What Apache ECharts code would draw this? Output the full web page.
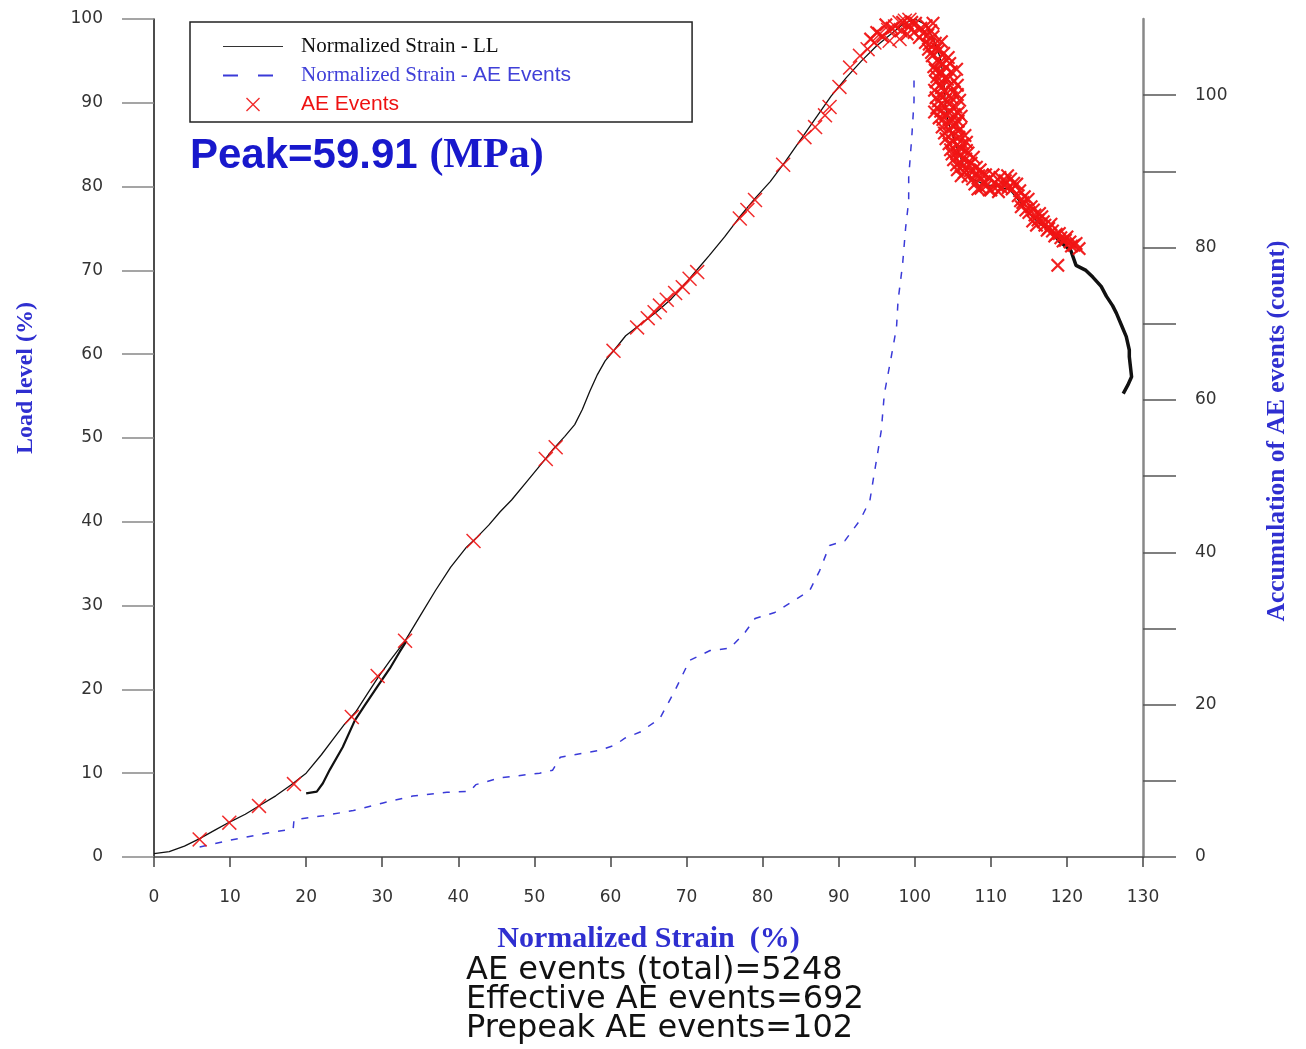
<!DOCTYPE html>
<html>
<head>
<meta charset="utf-8">
<script src="https://cdn.jsdelivr.net/npm/echarts@6/dist/echarts.min.js"></script>
<style>
html,body{margin:0;padding:0;background:#fff;}
#chart{width:1306px;height:1049px;}
</style>
</head>
<body>
<div id="chart"></div>
<script>
// ---- data (strain %, load %) ----
var llMain = [[0,0.4],[2,0.65],[4,1.3],[6,2.2],[8,3.2],[10,4.2],[12,5.1],[14,6.2],[16,7.3],[18,8.6],[20,10.0],[22,12.2],[23.5,14.0],[25,15.8],[26.5,17.3],[28,19.4],[29.5,21.5],[31,23.4],[33,25.8],[35,28.8],[37,31.8],[39,34.6],[41,36.9],[42.5,38.2],[44,39.6],[45.5,41.2],[47,42.6],[49,44.8],[51,47.0],[52.5,48.7],[54,50.2],[55.3,51.6],[56.3,53.4],[57.3,55.6],[58.3,57.6],[59.3,59.2],[60.5,60.5],[62,62.2],[64,63.6],[66,65.0],[68,66.6],[70,68.6],[71.5,70.2],[73,71.8],[75,74.0],[77,76.4],[79,78.6],[81,80.6],[83,83.0],[85,85.6],[87,88.2],[89,90.8],[91,93.0],[93,95.0],[95,96.8],[97,98.3],[98.5,99.4],[100,100],[101.5,99.3],[102.5,97.5],[103.3,95.5],[103.8,93],[104,90],[104.3,88],[105,86],[105.8,84],[106.5,82.3],[107.5,81],[109,80.3],[111,80],[112.5,79.6],[113.5,78.5],[115,76.8],[116.5,75.5],[118,74.6]];
var llReload = [[20.0,7.6],[21.4,7.8],[22.2,8.8],[23.1,10.4],[24.8,13.1],[26.4,16.3],[27.7,18.1],[29.4,20.4],[31,22.5],[32.3,24.5],[33.2,25.8]];
var llTail = [[118,74.6],[119,73.5],[120.5,72.4],[121.2,70.6],[122.5,70.0],[123.4,69.2],[124.5,68.1],[125.2,66.9],[126,65.8],[126.5,64.9],[127.2,63.4],[127.8,62.1],[128.2,60.5],[128.2,59.7],[128.5,57.3],[128,56.3],[127.4,55.3]];
// accumulation of AE events (strain %, count)
var aeAccum = [[6,1.3],[10,2.2],[15.2,3.2],[18.3,3.7],[18.4,4.9],[22.2,5.4],[26.2,6.1],[30.1,7.1],[34,8.0],[38.5,8.5],[41.5,8.6],[42.3,9.5],[45.5,10.4],[50.7,11],[52.4,11.4],[53.4,13.1],[58.6,14],[60.6,14.7],[61.9,15.6],[63.9,16.4],[66.5,18.2],[68.5,21.9],[70.4,25.8],[73.1,27.1],[75.7,27.4],[77.7,29.5],[79,31.3],[81.6,32.1],[84.2,33.7],[86.2,35],[87.5,37.6],[88.8,40.9],[90.8,41.5],[92.8,44.2],[94.1,46.8],[94.7,50.5],[95.2,53.5],[95.6,56],[96,60.8],[96.9,65.6],[97.6,69.5],[97.8,73],[98.4,77.8],[98.8,82.6],[99.2,86.1],[99.2,89.2],[99.4,91.8],[99.6,94.4],[99.9,99.2],[99.9,102]];
// AE events markers before the peak (strain %, load %)
var aeEventsPre = [[6,2.1],[9.9,4.1],[13.8,6.1],[18.4,8.7],[26,16.7],[29.4,21.6],[33,25.8],[42,37.7],[51.5,47.5],[52.8,48.9],[60.4,60.4],[63.5,63.2],[64.9,64.3],[65.8,65],[66.5,65.8],[67.4,66.5],[68.5,67.3],[69.5,68],[70.4,69],[71.4,69.8],[77,76.2],[78,77.2],[79,78.4],[82.7,82.6],[85.5,85.9],[86.9,87.1],[88.2,88.5],[88.8,89.5],[90.1,91.9],[91.5,94.2],[92.8,95.6],[93.8,96.4],[94.7,97.2],[95.4,98.2],[96.5,98.7],[96.7,97.4],[97.4,99.1],[98,99.6],[98,97.6],[98.7,99.8],[99.3,99.9]];
// AE events markers around and after the peak (strain %, load %)
var aeEventsPost = [[94.2,97.6],[95.0,98.4],[95.8,97.9],[96.2,99.3],[97.0,98.9],[97.5,100.3],[98.2,98.6],[99.0,98.2],[99.6,99.6],[100.2,100.9],[100.9,100.4],[101.6,100.8],
[98.4,99.6],[98.9,100.2],[99.3,99.1],[99.7,100.4],[100.1,99.5],[100.4,100.6],[100.8,98.9],[101.2,100.1],[101.5,99.2],[101.9,100.3],[100.6,97.8],[101.4,97.2],[102.1,98.6],[99.9,98.4],[102.4,99.5],
[101.1,98.3],[101.7,98.1],[102.4,97.9],[101.9,97.0],[102.9,96.5],[103.5,97.3],[102.2,96.0],[103.0,95.1],[103.7,94.6],[104.4,95.4],[102.7,93.9],[103.2,93.6],[104.0,93.0],[104.6,94.7],[105.5,94.0],[102.8,92.5],[103.5,91.8],[104.6,92.1],[105.6,92.1],
[101.8,96.4],[102.3,95.6],[102.7,97.1],[103.1,96.2],[102.5,94.3],[103.3,94.8],[103.8,95.9],[102.9,93.1],[103.6,93.6],[104.1,94.2],[103.4,92.2],[104.3,92.8],[104.8,93.7],[105.2,92.6],[103.9,91.4],
[102.6,91.5],[103.1,90.2],[104.0,90.3],[104.8,90.6],[105.9,90.3],[102.6,88.9],[103.4,89.0],[104.4,88.9],[105.2,88.6],[106.1,88.4],[103.7,88.0],[104.6,87.6],[105.7,87.8],[103.9,86.4],[104.9,86.3],[105.7,86.6],[106.6,86.1],[104.5,85.1],[105.6,85.0],[106.8,85.3],
[102.8,90.6],[103.5,90.9],[104.2,91.1],[105.0,91.3],[105.6,91.0],[102.9,89.4],[103.8,89.7],[104.6,89.9],[105.4,89.5],[103.2,88.2],[104.1,88.6],[104.9,88.0],[105.7,88.8],[103.6,87.1],[104.5,86.8],[105.3,87.3],[106.0,86.9],[104.1,85.7],[105.0,85.4],[105.8,85.9],[106.3,85.1],
[104.7,84.4],[105.5,84.1],[106.2,84.5],[107.0,84.0],[105.1,83.2],[105.9,82.9],[106.7,83.3],[107.4,82.8],[105.6,82.0],[106.5,81.7],[107.3,81.9],[108.1,82.3],
[104.9,83.9],[105.9,83.7],[106.8,84.3],[107.7,83.5],[105.5,82.6],[106.3,82.4],[107.1,82.6],[108.0,81.5],[106.1,81.3],[107.0,81.2],[108.6,82.0],[108.9,81.4],
[107.6,80.9],[108.4,81.3],[109.1,80.6],[109.8,81.0],[110.5,80.5],[111.2,81.1],[111.9,80.7],[112.6,80.9],[108.7,79.8],[110.0,79.6],[111.4,79.9],[112.8,79.7],[113.4,80.3],[109.4,80.1],
[107.9,80.3],[108.3,79.7],[109.8,79.6],[110.3,81.4],[110.9,80.1],[111.7,80.2],[112.2,81.3],[112.3,79.9],[113.0,80.4],[113.8,79.5],[109.3,81.4],[111.0,79.4],
[113.6,78.9],[114.2,78.1],[114.9,78.5],[114.6,77.2],[115.3,77.6],[115.8,76.6],[116.2,76.0],[116.7,76.4],[117.1,75.4],[117.6,75.0],[118.1,74.7],[115.5,75.9],
[113.9,78.3],[114.4,78.8],[114.0,77.6],[115.0,76.9],[115.6,77.2],[116.0,75.4],[116.4,76.8],[116.9,75.8],[117.4,74.8],[117.9,75.5],[118.4,74.1],[119.0,74.4],
[118.6,74.3],[119.2,73.9],[119.8,73.6],[120.4,73.4],[120.9,73.0],[119.5,73.5],[120.0,74.0],[120.6,72.9],[121.2,73.2],[121.6,72.6],[118.8,70.6]];
var xTicks = [0,10,20,30,40,50,60,70,80,90,100,110,120,130];
var rightTicks = [0,10,20,30,40,50,60,70,80,90,100];
var rightLabels = [0,20,40,60,80,100];
var seriesNames = ['Normalized Strain - LL','Normalized Strain - AE Events','AE Events'];
var peakText = 'Peak=59.91 ';
var peakUnit = '(MPa)';
var infoLines = ['AE events (total)=5248','Effective AE events=692','Prepeak AE events=102'];

var crossThin = 'path://M0,0.7L0.7,0L5,4.3L9.3,0L10,0.7L5.7,5L10,9.3L9.3,10L5,5.7L0.7,10L0,9.3L4.3,5Z';
var crossThick = 'path://M0,1.1L1.1,0L5,3.9L8.9,0L10,1.1L6.1,5L10,8.9L8.9,10L5,6.1L1.1,10L0,8.9L3.9,5Z';
var tickFont = {fontFamily:'DejaVu Sans', fontSize:17, color:'#333'};
var noSym = {opacity:0};

var chart = echarts.init(document.getElementById('chart'));
chart.setOption({
  animation:false,
  backgroundColor:'#fff',
  grid:{left:154, right:163, top:19, bottom:192},
  legend:{
    left:190, top:22, orient:'vertical',
    borderColor:'#222', borderWidth:1.5, borderRadius:0,
    padding:[14,121,7,32], itemGap:8, itemWidth:60, itemHeight:14,
    textStyle:{padding:[0,0,0,13], fontSize:21,
      rich:{
        k:{fontFamily:'Liberation Serif', fontSize:21, color:'#111'},
        s:{fontFamily:'Liberation Serif', fontSize:21, color:'#4040d8'},
        b:{fontFamily:'Liberation Sans', fontSize:21, color:'#4040d8'},
        r:{fontFamily:'Liberation Sans', fontSize:21, color:'#ee1111'}
      }},
    formatter:function(n){
      if(n===seriesNames[0]) return '{k|'+n+'}';
      if(n===seriesNames[1]) return '{s|Normalized Strain - }{b|AE Events}';
      return '{r|'+n+'}';
    },
    data:[
      {name:seriesNames[0], itemStyle:noSym, lineStyle:{width:1.2, color:'#333'}},
      {name:seriesNames[1], itemStyle:noSym, lineStyle:{type:[15,20], width:2, color:'#3a3ad8'}},
      {name:seriesNames[2]}
    ]
  },
  xAxis:{
    type:'value', min:0, max:130, interval:10,
    name:'Normalized Strain  (%)', nameLocation:'middle', nameGap:67,
    nameTextStyle:{fontFamily:'Liberation Serif', fontWeight:'bold', fontSize:30, color:'#2f2fd0'},
    axisLine:{lineStyle:{color:'#444', width:1.5}},
    axisTick:{length:10, lineStyle:{color:'#444', width:1.5}},
    axisLabel:Object.assign({margin:32}, tickFont),
    splitLine:{show:false}
  },
  yAxis:[{
    type:'value', min:0, max:100, interval:10, position:'left',
    name:'Load level (%)', nameLocation:'middle', nameGap:116, nameRotate:90,
    nameTextStyle:{fontFamily:'Liberation Serif', fontWeight:'bold', fontSize:24, color:'#2f2fd0', padding:[0,0,0,120]},
    axisLine:{show:true, lineStyle:{color:'#111', width:1.5}},
    axisTick:{show:true, length:32, lineStyle:{color:'#888', width:1.5}},
    axisLabel:Object.assign({margin:51}, tickFont),
    splitLine:{show:false}
  },{
    type:'value', min:0, max:110, interval:10, position:'right',
    name:'Accumulation of AE events (count)', nameLocation:'middle', nameGap:121, nameRotate:90,
    nameTextStyle:{fontFamily:'Liberation Serif', fontWeight:'bold', fontSize:25.5, color:'#2f2fd0', padding:[0,0,0,14]},
    axisLine:{show:true, lineStyle:{color:'#888', width:2.5}},
    axisTick:{show:true, length:33, customValues:rightTicks, lineStyle:{color:'#555', width:1.5}},
    axisLabel:Object.assign({margin:52, customValues:rightLabels}, tickFont),
    splitLine:{show:false}
  }],
  graphic:[{
    type:'text', left:190, top:135,
    style:{
      text:'{a|'+peakText+'}{b|'+peakUnit+'}',
      rich:{
        a:{fontFamily:'Liberation Sans', fontWeight:'bold', fontSize:42, fill:'#1818cc'},
        b:{fontFamily:'Liberation Serif', fontWeight:'bold', fontSize:42, fill:'#1818cc'}
      }
    }
  },{
    type:'text', left:466, top:955,
    style:{
      text:infoLines.join('\n'),
      fontFamily:'DejaVu Sans', fontSize:32, lineHeight:29, fill:'#111'
    }
  }],
  series:[{
    name:seriesNames[0], type:'line', data:llMain, yAxisIndex:0,
    symbol:'none', showSymbol:false,
    lineStyle:{color:'#111', width:1.3}, itemStyle:{color:'#111'}, z:3
  },{
    name:seriesNames[0], type:'line', data:llReload, yAxisIndex:0,
    symbol:'none', showSymbol:false,
    lineStyle:{color:'#111', width:2.2}, itemStyle:{color:'#111'}, z:3
  },{
    name:seriesNames[0], type:'line', data:llTail, yAxisIndex:0,
    symbol:'none', showSymbol:false,
    lineStyle:{color:'#111', width:3.5}, itemStyle:{color:'#111'}, z:3
  },{
    name:seriesNames[1], type:'line', data:aeAccum, yAxisIndex:1,
    symbol:'none', showSymbol:false,
    lineStyle:{color:'#3a3ad8', width:1.5, type:[7,9]}, itemStyle:{color:'#3a3ad8'}, z:2
  },{
    name:seriesNames[2], type:'scatter', data:aeEventsPre, yAxisIndex:0,
    symbol:crossThin, symbolSize:15, symbolKeepAspect:true,
    itemStyle:{color:'#f01414', opacity:0.9}, z:4
  },{
    name:seriesNames[2], type:'scatter', data:aeEventsPost, yAxisIndex:0,
    symbol:crossThick, symbolSize:14, symbolKeepAspect:true,
    itemStyle:{color:'#f01414', opacity:0.95}, z:4
  }]
});
</script>
</body>
</html>
